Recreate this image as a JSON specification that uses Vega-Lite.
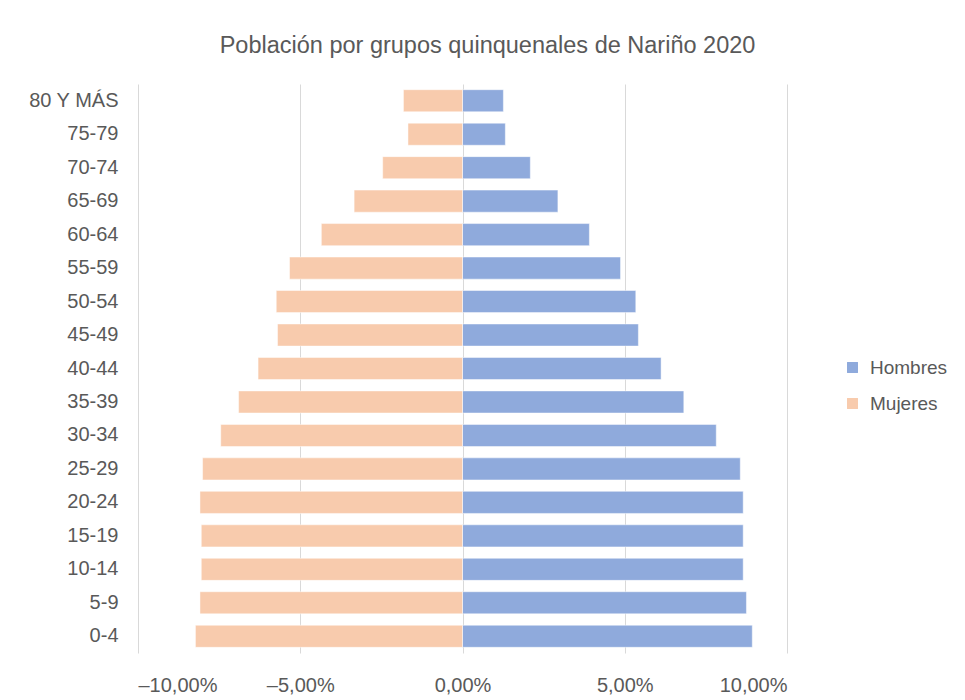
{
  "$schema": "https://vega.github.io/schema/vega-lite/v6.json",
  "autosize": "none",
  "padding": {"left": 138, "top": 84, "right": 178, "bottom": 47},
  "width": 649,
  "height": 569,
  "background": "white",
  "config": {
    "locale": {"number": {"decimal": ",", "thousands": ".", "grouping": [3], "currency": ["$", ""], "minus": "–"}},
    "view": {"stroke": null},
    "font": "Liberation Sans"
  },
  "title": {
    "text": "Población por grupos quinquenales de Nariño 2020",
    "fontSize": 23.5,
    "fontWeight": "normal",
    "color": "#595959",
    "font": "Liberation Sans",
    "anchor": "middle",
    "frame": "group",
    "dx": 25,
    "offset": 27
  },
  "data": {
    "values": [
      {"grupo": "80 Y MÁS", "sexo": "Hombres", "valor": 0.0126},
      {"grupo": "75-79", "sexo": "Hombres", "valor": 0.0132},
      {"grupo": "70-74", "sexo": "Hombres", "valor": 0.0209},
      {"grupo": "65-69", "sexo": "Hombres", "valor": 0.0294},
      {"grupo": "60-64", "sexo": "Hombres", "valor": 0.0391},
      {"grupo": "55-59", "sexo": "Hombres", "valor": 0.0487},
      {"grupo": "50-54", "sexo": "Hombres", "valor": 0.0534},
      {"grupo": "45-49", "sexo": "Hombres", "valor": 0.0542},
      {"grupo": "40-44", "sexo": "Hombres", "valor": 0.0612},
      {"grupo": "35-39", "sexo": "Hombres", "valor": 0.0682},
      {"grupo": "30-34", "sexo": "Hombres", "valor": 0.0782},
      {"grupo": "25-29", "sexo": "Hombres", "valor": 0.0856},
      {"grupo": "20-24", "sexo": "Hombres", "valor": 0.0865},
      {"grupo": "15-19", "sexo": "Hombres", "valor": 0.0865},
      {"grupo": "10-14", "sexo": "Hombres", "valor": 0.0865},
      {"grupo": "5-9", "sexo": "Hombres", "valor": 0.0875},
      {"grupo": "0-4", "sexo": "Hombres", "valor": 0.0893},
      {"grupo": "80 Y MÁS", "sexo": "Mujeres", "valor": -0.0182},
      {"grupo": "75-79", "sexo": "Mujeres", "valor": -0.0168},
      {"grupo": "70-74", "sexo": "Mujeres", "valor": -0.0246},
      {"grupo": "65-69", "sexo": "Mujeres", "valor": -0.0334},
      {"grupo": "60-64", "sexo": "Mujeres", "valor": -0.0435},
      {"grupo": "55-59", "sexo": "Mujeres", "valor": -0.0533},
      {"grupo": "50-54", "sexo": "Mujeres", "valor": -0.0574},
      {"grupo": "45-49", "sexo": "Mujeres", "valor": -0.0570},
      {"grupo": "40-44", "sexo": "Mujeres", "valor": -0.0630},
      {"grupo": "35-39", "sexo": "Mujeres", "valor": -0.0690},
      {"grupo": "30-34", "sexo": "Mujeres", "valor": -0.0745},
      {"grupo": "25-29", "sexo": "Mujeres", "valor": -0.0801},
      {"grupo": "20-24", "sexo": "Mujeres", "valor": -0.0809},
      {"grupo": "15-19", "sexo": "Mujeres", "valor": -0.0805},
      {"grupo": "10-14", "sexo": "Mujeres", "valor": -0.0805},
      {"grupo": "5-9", "sexo": "Mujeres", "valor": -0.0809},
      {"grupo": "0-4", "sexo": "Mujeres", "valor": -0.0823}
    ]
  },
  "mark": {"type": "bar", "stroke": "#ffffff", "strokeWidth": 0.8, "strokeOpacity": 0.6},
  "encoding": {
    "y": {
      "field": "grupo",
      "type": "nominal",
      "sort": ["80 Y MÁS", "75-79", "70-74", "65-69", "60-64", "55-59", "50-54", "45-49", "40-44", "35-39", "30-34", "25-29", "20-24", "15-19", "10-14", "5-9", "0-4"],
      "scale": {"paddingInner": 0.34, "paddingOuter": 0.17},
      "axis": {
        "title": null,
        "domain": false,
        "ticks": false,
        "grid": false,
        "labelPadding": 20,
        "labelFontSize": 20,
        "labelColor": "#595959",
        "labelFont": "Liberation Sans"
      }
    },
    "x": {
      "field": "valor",
      "type": "quantitative",
      "scale": {"domain": [-0.1, 0.1], "nice": false},
      "axis": {
        "title": null,
        "values": [-0.1, -0.05, 0, 0.05, 0.1],
        "format": ".2%",
        "domain": false,
        "ticks": false,
        "grid": true,
        "gridColor": "#D9D9D9",
        "gridWidth": 1,
        "labelPadding": 22,
        "labelFontSize": 20,
        "labelColor": "#595959",
        "labelFont": "Liberation Sans"
      }
    },
    "color": {
      "field": "sexo",
      "type": "nominal",
      "scale": {"domain": ["Hombres", "Mujeres"], "range": ["#8FAADC", "#F8CBAD"]},
      "legend": {
        "title": null,
        "orient": "none",
        "legendX": 705,
        "legendY": 274,
        "symbolType": "square",
        "symbolSize": 120,
        "symbolStrokeWidth": 0,
        "labelFontSize": 19,
        "labelColor": "#595959",
        "labelFont": "Liberation Sans",
        "rowPadding": 16,
        "labelOffset": 8
      }
    }
  }
}
